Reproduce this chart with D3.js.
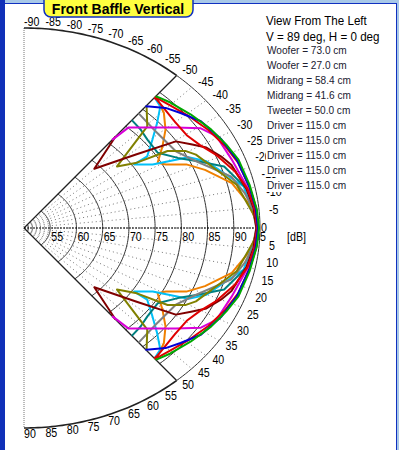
<!DOCTYPE html>
<html>
<head>
<meta charset="utf-8">
<script src="https://cdn.jsdelivr.net/npm/d3@7"></script>
<style>
  body { margin: 0; background: #fff; }
  svg { display: block; font-family: "Liberation Sans", Arial, sans-serif; }
</style>
</head>
<body>
<div id="chart"></div>
<script>
// angles in degrees off axis (drawn both up and down), levels in dB
const dbTicks = [55, 60, 65, 70, 75, 80, 85, 90, 95]
const angleTicks = d3.range(-90, 91, 5)
const spokeAngles = [-40, -35, -30, -25, -20, -15, -10, -5, 0, 5, 10, 15, 20, 25, 30, 35, 40]

const headerLines = ["View From The Left", "V = 89 deg, H = 0 deg"]
const legendLines = ["Woofer = 73.0 cm", "Woofer = 27.0 cm", "Midrang = 58.4 cm", "Midrang = 41.6 cm",
  "Tweeter = 50.0 cm", "Driver = 115.0 cm", "Driver = 115.0 cm", "Driver = 115.0 cm",
  "Driver = 115.0 cm", "Driver = 115.0 cm"]

const orange = [[0,94.7],[5.8,93.4],[12.2,90.9],[17.8,86.9],[21.4,84.1],[24.1,80.6],[26,79.4],[30.6,82.2],[34.8,84.9],[39.5,87.2],[44,88.5],[45,88.6]]
const cyan = [[0,94.8],[10.7,92.9],[20.1,87.9],[23.3,85.2],[24.2,82.8],[26.3,78.4],[30,75.4],[30.2,78.5],[34.6,81.6],[38.3,84.7],[41.7,87.7],[45,88.5]]
const teal = [[0,94.3],[4,94.2],[8.8,94],[17.1,90.6],[21,86.4],[24.5,83.3],[29.4,80.6],[35.6,80.8],[40.2,81.4],[45,81.8]]
const gray = [[0,94.3],[5,93.8],[9,92.8],[13.9,91.2],[21.2,86.1],[26.8,83.7],[36.2,83.2],[45,83.8]]
const olive = [[0,94.5],[3.3,93.9],[11.5,91.7],[23.1,86.7],[25.4,85.4],[28.2,82.4],[30.2,75.8],[33.5,72.5],[39.5,82.8],[44.8,86],[45,86]]
const maroon = [[0,94.3],[5,94],[10,93.3],[17,92],[19.9,90.9],[23.8,89.2],[26.6,87],[29.7,84.9],[33.3,77],[40.1,68.9],[45,77]]
const magenta = [[0,94.5],[5,94.2],[10,93.6],[18.3,92.5],[25.5,92.1],[29.4,90.5],[33.5,86.7],[38.4,83.1],[43.9,80.1],[45,76]]
const red2 = [[0,94.5],[5,94.2],[10,93.5],[15,92.2],[20.7,90.2],[25.2,88.4],[29.7,87.4],[35.1,87.4],[43.9,88.4],[45,88.4]]
const red = [[0,94.7],[5,94.5],[10,94],[17,93.4],[22,92.6],[28,91.5],[34,90.3],[40,89.2],[44.3,88.7],[45,88.5]]
const blue = [[0,94.6],[5,94.4],[10,94],[17.9,93.4],[24.2,92.6],[31.1,91.4],[36.3,89.5],[40.3,88.2],[44.8,86],[45,85.8]]
const green = [[0,94.8],[4.5,94.6],[10.9,94.1],[17.7,93.7],[22.4,92.9],[27.8,92],[34.2,90.8],[40.6,89.7],[44.3,89],[45,88.8]]

const curves = [orange, cyan, teal, gray, olive, maroon, magenta, red2, red, blue, green]
const curveColors = ["#f08000", "#00c0f8", "#008080", "#808080", "#808000", "#800000",
  "#d800d8", "#e00000", "#e00000", "#0000d8", "#00a800"]

let svgWidth = 399
let svgHeight = 450
const cx = 24, cy = 228
const ax = 236, ay = 200   // 95 dB ring is an ellipse
const squeeze = 0.82       // the original labels use a narrow bitmap font

const svg = d3.select("#chart").append("svg")
  .attr("width", svgWidth)
  .attr("height", svgHeight)

const rScale = d3.scaleLinear().domain([50, 95]).range([0, 1])
const aScale = d3.scaleLinear().domain([0, 180]).range([0, Math.PI])

function edge(deg) {
  const t = aScale(deg)
  return 1 / Math.sqrt(Math.cos(t) ** 2 / (ax * ax) + Math.sin(t) ** 2 / (ay * ay))
}
function pos(deg, db) {
  const t = aScale(deg)
  const r = rScale(db) * edge(deg)
  return [cx + r * Math.cos(t), cy + r * Math.sin(t)]
}

const line = d3.line()

// window frame
svg.append("rect").attr("x", 0).attr("y", 0).attr("width", svgWidth).attr("height", 3).attr("fill", "#a8c8e8")
svg.append("rect").attr("x", 0).attr("y", 3).attr("width", 397).attr("height", 1).attr("fill", "#1030c0")
svg.append("rect").attr("x", 0).attr("y", 0).attr("width", 5).attr("height", svgHeight).attr("fill", "#1030b8")
svg.append("rect").attr("x", 396).attr("y", 3).attr("width", 1).attr("height", svgHeight).attr("fill", "#1030c0")
svg.append("rect").attr("x", 397).attr("y", 0).attr("width", 2).attr("height", svgHeight).attr("fill", "#a8c8e8")

const grid = svg.append("g")

// left edge
grid.append("line")
  .attr("x1", cx).attr("x2", cx)
  .attr("y1", cy - ay).attr("y2", cy + ay)
  .attr("stroke", "#777").attr("stroke-width", 1).attr("stroke-dasharray", "1,1")

// dotted spokes
grid.selectAll(".spoke")
  .data(spokeAngles)
  .enter()
  .append("path")
  .attr("d", d => line([pos(d, 50), pos(d, 95)]))
  .attr("stroke", "#777")
  .attr("stroke-width", 1)
  .attr("stroke-dasharray", "1,3")
  .attr("fill", "none")

// solid rings
grid.selectAll(".ring")
  .data(dbTicks.slice(0, -1))
  .enter()
  .append("path")
  .attr("d", d => line(d3.range(-45, 45.5, 1).map(a => pos(a, d))))
  .attr("stroke", "#333")
  .attr("stroke-width", 1)
  .attr("fill", "none")

// outer ring 95
grid.append("path")
  .attr("d", line(d3.range(-45, 45.5, 1).map(a => pos(a, 95))))
  .attr("stroke", "#333").attr("stroke-width", 1).attr("fill", "none")
grid.selectAll(".frame")
  .data([[-90, -45], [45, 90]])
  .enter()
  .append("path")
  .attr("d", d => line(d3.range(d[0], d[1] + 0.5, 1).map(a => pos(a, 95))))
  .attr("stroke", "#222").attr("stroke-width", 1.6).attr("fill", "none")

// 45 deg edges
grid.selectAll(".edge45")
  .data([-45, 45])
  .enter()
  .append("path")
  .attr("d", d => line([pos(d, 50), pos(d, 95)]))
  .attr("stroke", "#222").attr("stroke-width", 1.3).attr("fill", "none")

// horizontal axis
grid.append("path")
  .attr("d", line([pos(0, 50), pos(0, 95)]))
  .attr("stroke", "#000").attr("stroke-width", 1).attr("stroke-dasharray", "2,1")

// dB labels
svg.selectAll(".dblab")
  .data(dbTicks)
  .enter()
  .append("text")
  .attr("transform", d => `translate(${pos(0, d)[0] + (d === 95 ? -6 : 1)},${cy + 13}) scale(${squeeze},1)`)
  .attr("font-size", 13)
  .attr("fill", "#000")
  .text(d => d)

svg.append("text")
  .attr("transform", `translate(287,${cy + 13}) scale(${squeeze},1)`)
  .attr("font-size", 13).text("[dB]")

// curves
const plot = svg.append("g")
plot.selectAll(".curve")
  .data(curves)
  .enter()
  .append("path")
  .attr("d", c => {
    const upper = c.slice().reverse().map(p => pos(-p[0], p[1]))
    const lower = c.slice(1).map(p => pos(p[0], p[1]))
    return line(upper.concat(lower))
  })
  .attr("stroke", (c, i) => curveColors[i])
  .attr("stroke-width", 2)
  .attr("stroke-linejoin", "round")
  .attr("fill", "none")

// angle labels around the edge
const lx = 246, ly = 206
svg.selectAll(".anglab")
  .data(angleTicks)
  .enter()
  .append("text")
  .attr("transform", d => {
    const x = d === 0 ? cx + lx - 3 : cx + lx * Math.cos(aScale(d))
    const y = cy - 1 + ly * Math.sin(aScale(d))
    return `translate(${x},${y}) scale(${squeeze},1)`
  })
  .attr("dy", "0.35em")
  .attr("text-anchor", d => d === 0 ? "end" : "start")
  .attr("font-size", 13)
  .attr("fill", "#000")
  .text(d => d)

// legend
const legend = svg.append("g")
legend.selectAll(".hdr")
  .data(headerLines)
  .enter()
  .append("text")
  .attr("transform", (d, i) => `translate(266,${25 + i * 16}) scale(0.86,1)`)
  .attr("font-size", 13.5)
  .attr("fill", "#000")
  .text(d => d)

const rows = legend.selectAll(".row")
  .data(legendLines)
  .enter()
  .append("g")
rows.append("rect")
  .attr("x", 266).attr("y", (d, i) => 44 + i * 15)
  .attr("width", d => d.length * 4.7).attr("height", 13)
  .attr("fill", "#fff")
rows.append("text")
  .attr("x", 267)
  .attr("y", (d, i) => 54 + i * 15)
  .attr("font-size", 10.1)
  .attr("fill", "#202030")
  .text(d => d)

// title
const title = svg.append("g")
title.append("rect")
  .attr("x", 44).attr("y", -8).attr("width", 149).attr("height", 25).attr("rx", 7)
  .attr("fill", "#ffff40").attr("stroke", "#1030c0").attr("stroke-width", 1.5)
title.append("text")
  .attr("x", 118).attr("y", 14)
  .attr("text-anchor", "middle")
  .attr("font-size", 14).attr("font-weight", "bold")
  .text("Front Baffle Vertical")
</script>
</body>
</html>
